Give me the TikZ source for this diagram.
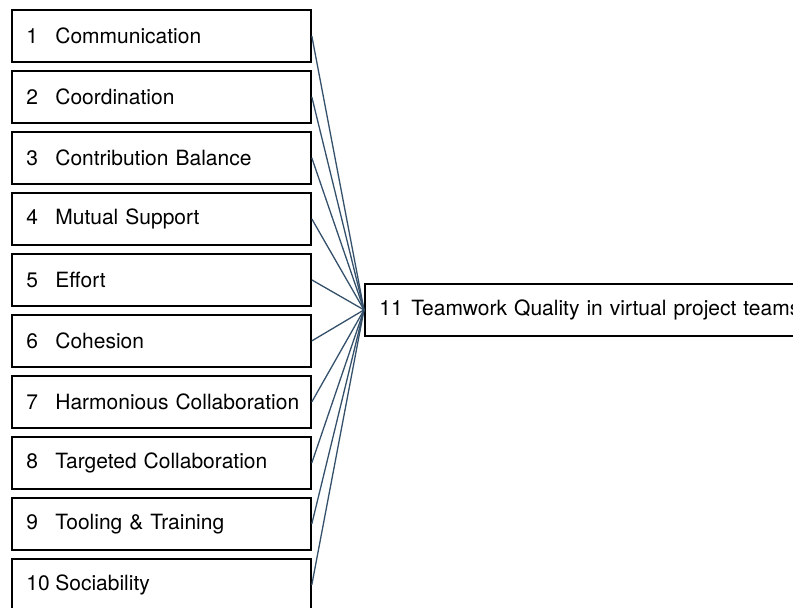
\documentclass[tikz,border=0pt]{standalone}
\usepackage{fontspec}
\setmainfont{TeX Gyre Heros}
\definecolor{linkcol}{HTML}{34506A}
\begin{document}
\begin{tikzpicture}[x=1pt,y=-1pt,
  factor/.style={draw=black,line width=1.8pt,minimum width=299pt,minimum height=52pt,
    inner sep=0pt,anchor=north west,text width=299pt,align=left,
    font=\fontsize{21}{24}\selectfont},
  outcome/.style={draw=black,line width=1.8pt,minimum height=52pt,minimum width=470pt,
    inner sep=0pt,anchor=north west,text width=470pt,align=left,
    font=\fontsize{21}{24}\selectfont},
  link/.style={draw=linkcol,line width=1.3pt}]
\useasboundingbox (0,0) rectangle (793,608);
\clip (0,0) rectangle (793,608);
\newcommand{\numlab}[2]{\makebox[29pt][l]{#1}#2}
\foreach \i/\t in {1/Communication,2/Coordination,3/Contribution Balance,4/Mutual Support,
  5/Effort,6/Cohesion,7/Harmonious Collaboration,8/Targeted Collaboration,
  9/Tooling \& Training,10/Sociability}{
  \node[factor] (f\i) at (11,{9+61*(\i-1)}) {\hspace*{14.5pt}\numlab{\i}{\t}};
}
\node[outcome] (q) at (364,283) {\hspace*{14.5pt}\makebox[32pt][l]{11}Teamwork Quality in virtual project teams};
\foreach \i in {1,...,10}{
  \draw[link] (f\i.east) -- (q.west);
}
\end{tikzpicture}
\end{document}
